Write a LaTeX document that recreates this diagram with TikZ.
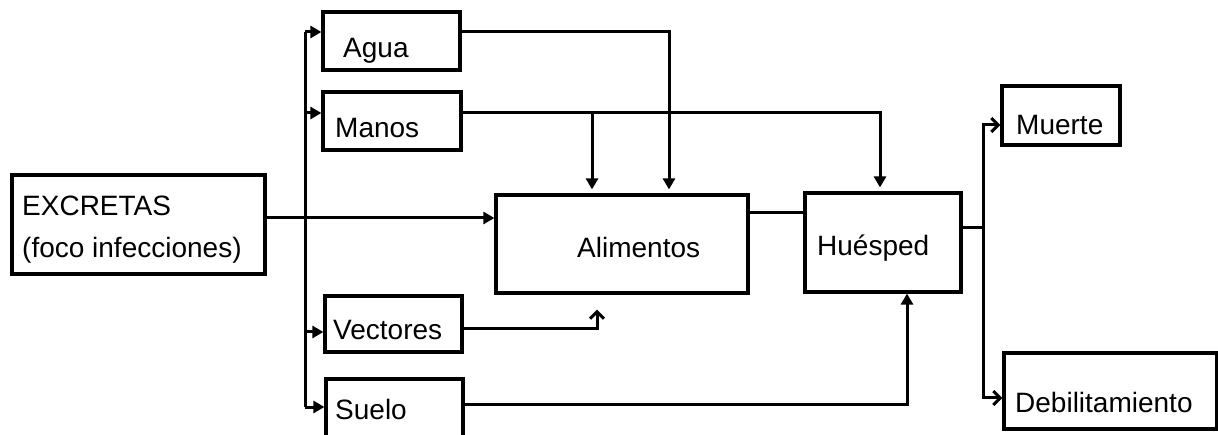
\documentclass[tikz,border=0pt]{standalone}
\usepackage{fontspec}
\setmainfont{Liberation Sans}
\usetikzlibrary{arrows.meta}
\begin{document}
\begin{tikzpicture}[x=1pt,y=-1pt,
  box/.style={draw, line width=3.2pt, inner sep=0pt},
  txt/.style={anchor=base west, inner sep=0pt, font=\fontsize{28}{42}\selectfont},
  conn/.style={line width=3pt},
  arr/.style={conn,-{Triangle[length=11pt,width=12pt]}},
  barb/.style={conn,-{Straight Barb[length=7pt,width=14pt,line width=3pt]}}]
\useasboundingbox (0,0) rectangle (1218,435);
\fill[white] (0,0) rectangle (1218,435);

% boxes
\node[box, minimum width=253pt, minimum height=99pt] (excretas) at (138.5,224.5) {};
\node[box, minimum width=137pt, minimum height=58pt] (agua) at (391.5,41) {};
\node[box, minimum width=138pt, minimum height=58pt] (manos) at (392,121) {};
\node[box, minimum width=252pt, minimum height=98pt] (alimentos) at (622,244) {};
\node[box, minimum width=156pt, minimum height=99pt] (huesped) at (883,242.5) {};
\node[box, minimum width=118pt, minimum height=59pt] (muerte) at (1061,115.5) {};
\node[box, minimum width=213pt, minimum height=76pt] (debil) at (1110.5,391) {};
\node[box, minimum width=137pt, minimum height=56pt] (vectores) at (393.5,324) {};
\node[box, minimum width=137pt, minimum height=62pt] (suelo) at (394.5,410) {};

% texts
\node[txt] (t-excretas1) at (22,216) {EXCRETAS};
\node[txt] (t-excretas2) at (22,258) {(foco infecciones)};
\node[txt] (t-agua) at (343,58) {Agua};
\node[txt] (t-manos) at (335,138) {Manos};
\node[txt] (t-alimentos) at (577,258) {Alimentos};
\node[txt] (t-huesped) at (817,256) {Huésped};
\node[txt] (t-muerte) at (1016,135) {Muerte};
\node[txt] (t-debil) at (1015,413) {Debilitamiento};
\node[txt] (t-vectores) at (333,340) {Vectores};
\node[txt] (t-suelo) at (335,420) {Suelo};

% trunk
\coordinate (ttop) at (305,32);
\coordinate (tbot) at (305,407);
\draw[conn] (ttop) -- (tbot);
\draw[arr] (ttop) -- ([yshift=9pt]agua.west);
\draw[arr] ([yshift=8pt]manos.west -| ttop) -- ([yshift=8pt]manos.west);
\draw[arr] ([yshift=-8pt]vectores.west -| ttop) -- ([yshift=-8pt]vectores.west);
\draw[arr] (tbot) -- ([yshift=3pt]suelo.west);

% excretas -> alimentos
\draw[arr] ([yshift=6.5pt]excretas.east) -- ([yshift=6.5pt]excretas.east -| alimentos.west);

% agua -> alimentos
\draw[arr, shorten >=4pt] ([yshift=9pt]agua.east) -| ([xshift=47pt]alimentos.north);
% manos -> huesped, and branch to alimentos
\coordinate (mbr) at ([xshift=-30pt]alimentos.north |- manos.east);
\draw[arr, shorten >=4pt] ([yshift=8pt]manos.east) -| ([xshift=-3pt]huesped.north);
\draw[arr, shorten >=4pt] ([yshift=8pt]mbr) -- ([xshift=-30pt]alimentos.north);

% alimentos -> huesped
\draw[conn] ([yshift=31pt]alimentos.east) -- ([yshift=31pt]alimentos.east -| huesped.west);

% vectores -> alimentos
\draw[barb] ([yshift=-5pt]vectores.east) -| ([xshift=-25pt,yshift=-15pt]alimentos.south);
% suelo -> huesped
\draw[arr] ([yshift=6pt]suelo.east) -| ([xshift=24pt]huesped.south);

% huesped -> outcomes
\coordinate (split) at (983,228);
\draw[conn] ([yshift=14.5pt]huesped.east) -- (split);
\draw[barb] (split) |- ([yshift=-9.5pt]muerte.west);
\draw[barb] (split) |- ([yshift=-7pt]debil.west);
\end{tikzpicture}
\end{document}
